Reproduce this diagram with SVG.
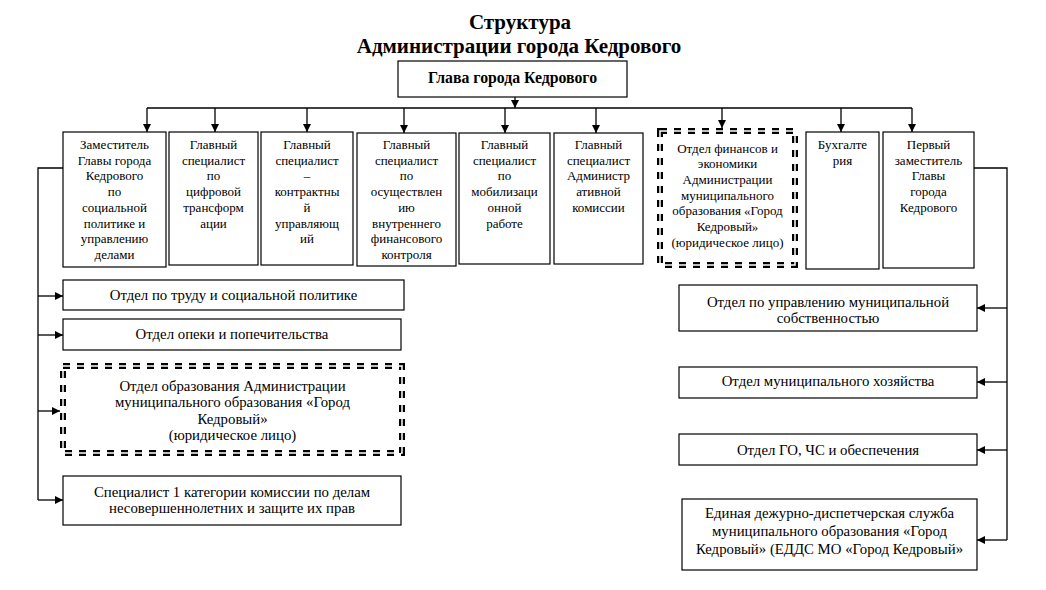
<svg xmlns="http://www.w3.org/2000/svg" width="1046" height="590" viewBox="0 0 1046 590">
<defs>
<marker id="arr" markerUnits="userSpaceOnUse" markerWidth="9" markerHeight="8" refX="8" refY="4" orient="auto"><path d="M0,0 L8,4 L0,8 z" fill="#000"/></marker>
<style>
.box{fill:#fff;stroke:#000;stroke-width:1.2}
.dash{fill:#fff;stroke:#000;stroke-width:6;stroke-dasharray:7 7}
.dashin{fill:none;stroke:#fff;stroke-width:1.5;stroke-dasharray:7 7}
.c{fill:none;stroke:#000;stroke-width:1.3}
.a{fill:none;stroke:#000;stroke-width:1.3;marker-end:url(#arr)}
text{font-family:"Liberation Serif","Times New Roman",serif;fill:#000;text-anchor:middle}
.t{font-size:21px;font-weight:bold}
.h{font-size:15.8px;font-weight:bold}
.s{font-size:13px}
.m{font-size:14.8px}
</style>
</defs>
<rect width="1046" height="590" fill="#fff"/>
<g id="title">
<text class="t" x="520" y="29">Структура</text>
<text class="t" x="519" y="53">Администрации города Кедрового</text>
</g>
<g id="connectors">
<line class="a" x1="515" y1="97" x2="515" y2="108"/>
<line class="c" x1="147" y1="108" x2="912" y2="108"/>
<line class="a" x1="147" y1="108" x2="147" y2="132"/>
<line class="a" x1="215" y1="108" x2="215" y2="132"/>
<line class="a" x1="307" y1="108" x2="307" y2="132"/>
<line class="a" x1="404" y1="108" x2="404" y2="133"/>
<line class="a" x1="505" y1="108" x2="505" y2="133"/>
<line class="a" x1="596" y1="108" x2="596" y2="133"/>
<line class="a" x1="722" y1="108" x2="722" y2="128"/>
<line class="a" x1="841" y1="108" x2="841" y2="132"/>
<line class="a" x1="912" y1="108" x2="912" y2="132"/>
<polyline class="c" points="63,168 38,168 38,500"/>
<line class="a" x1="38" y1="296" x2="63" y2="296"/>
<line class="a" x1="38" y1="335" x2="63" y2="335"/>
<line class="a" x1="38" y1="411" x2="60" y2="411"/>
<line class="a" x1="38" y1="500" x2="63" y2="500"/>
<polyline class="c" points="974,168 1007,168 1007,540"/>
<line class="a" x1="1007" y1="308" x2="977" y2="308"/>
<line class="a" x1="1007" y1="382" x2="977" y2="382"/>
<line class="a" x1="1007" y1="450" x2="977" y2="450"/>
<line class="a" x1="1007" y1="540" x2="977" y2="540"/>
</g>
<g id="head">
<rect class="box" x="398" y="61" width="229" height="36"/>
<text class="h" x="512.5" y="83">Глава города Кедрового</text>
</g>
<g id="n1">
<rect class="box" x="63" y="132" width="103" height="135"/>
<text class="s"><tspan x="114.5" y="149">Заместитель</tspan><tspan x="114.5" y="164.7">Главы города</tspan><tspan x="114.5" y="180.4">Кедрового</tspan><tspan x="114.5" y="196.1">по</tspan><tspan x="114.5" y="211.8">социальной</tspan><tspan x="114.5" y="227.5">политике и</tspan><tspan x="114.5" y="243.2">управлению</tspan><tspan x="114.5" y="258.9">делами</tspan></text>
</g>
<g id="n2">
<rect class="box" x="169" y="132" width="89" height="133"/>
<text class="s"><tspan x="213.5" y="149">Главный</tspan><tspan x="213.5" y="164.7">специалист</tspan><tspan x="213.5" y="180.4">по</tspan><tspan x="213.5" y="196.1">цифровой</tspan><tspan x="213.5" y="211.8">трансформ</tspan><tspan x="213.5" y="227.5">ации</tspan></text>
</g>
<g id="n3">
<rect class="box" x="261" y="132" width="92" height="133"/>
<text class="s"><tspan x="307" y="149">Главный</tspan><tspan x="307" y="164.7">специалист</tspan><tspan x="307" y="180.4">–</tspan><tspan x="307" y="196.1">контрактны</tspan><tspan x="307" y="211.8">й</tspan><tspan x="307" y="227.5">управляющ</tspan><tspan x="307" y="243.2">ий</tspan></text>
</g>
<g id="n4">
<rect class="box" x="357" y="133" width="99" height="133"/>
<text class="s"><tspan x="406.5" y="149">Главный</tspan><tspan x="406.5" y="164.7">специалист</tspan><tspan x="406.5" y="180.4">по</tspan><tspan x="406.5" y="196.1">осуществлен</tspan><tspan x="406.5" y="211.8">ию</tspan><tspan x="406.5" y="227.5">внутреннего</tspan><tspan x="406.5" y="243.2">финансового</tspan><tspan x="406.5" y="258.9">контроля</tspan></text>
</g>
<g id="n5">
<rect class="box" x="459" y="133" width="91" height="131"/>
<text class="s"><tspan x="504.5" y="149">Главный</tspan><tspan x="504.5" y="164.7">специалист</tspan><tspan x="504.5" y="180.4">по</tspan><tspan x="504.5" y="196.1">мобилизаци</tspan><tspan x="504.5" y="211.8">онной</tspan><tspan x="504.5" y="227.5">работе</tspan></text>
</g>
<g id="n6">
<rect class="box" x="554" y="133" width="89" height="131"/>
<text class="s"><tspan x="598.5" y="149">Главный</tspan><tspan x="598.5" y="164.7">специалист</tspan><tspan x="598.5" y="180.4">Администр</tspan><tspan x="598.5" y="196.1">ативной</tspan><tspan x="598.5" y="211.8">комиссии</tspan></text>
</g>
<g id="n7">
<rect class="dash" x="660" y="131" width="135" height="134"/>
<rect class="dashin" x="660" y="131" width="135" height="134"/>
<text class="s"><tspan x="727.5" y="152.5">Отдел финансов и</tspan><tspan x="727.5" y="168.2">экономики</tspan><tspan x="727.5" y="183.9">Администрации</tspan><tspan x="727.5" y="199.6">муниципального</tspan><tspan x="727.5" y="215.3">образования «Город</tspan><tspan x="727.5" y="231">Кедровый»</tspan><tspan x="727.5" y="246.7">(юридическое лицо)</tspan></text>
</g>
<g id="n8">
<rect class="box" x="806" y="132" width="73" height="137"/>
<text class="s"><tspan x="842.5" y="149">Бухгалте</tspan><tspan x="842.5" y="164.7">рия</tspan></text>
</g>
<g id="n9">
<rect class="box" x="883" y="132" width="91" height="136"/>
<text class="s"><tspan x="928.5" y="149">Первый</tspan><tspan x="928.5" y="164.7">заместитель</tspan><tspan x="928.5" y="180.4">Главы</tspan><tspan x="928.5" y="196.1">города</tspan><tspan x="928.5" y="211.8">Кедрового</tspan></text>
</g>
<g id="l1">
<rect class="box" x="63" y="280" width="341" height="30"/>
<text class="m" x="233.5" y="300">Отдел по труду и социальной политике</text>
</g>
<g id="l2">
<rect class="box" x="63" y="319" width="338" height="31"/>
<text class="m" x="232" y="339">Отдел опеки и попечительства</text>
</g>
<g id="l3">
<rect class="dash" x="63" y="366" width="339" height="87"/>
<rect class="dashin" x="63" y="366" width="339" height="87"/>
<text class="m"><tspan x="232.5" y="391">Отдел образования Администрации</tspan><tspan x="232.5" y="407.3">муниципального образования «Город</tspan><tspan x="232.5" y="423.6">Кедровый»</tspan><tspan x="232.5" y="439.9">(юридическое лицо)</tspan></text>
</g>
<g id="l4">
<rect class="box" x="63" y="476" width="338" height="49"/>
<text class="m"><tspan x="232" y="497">Специалист 1 категории комиссии по делам</tspan><tspan x="232" y="513">несовершеннолетних и защите их прав</tspan></text>
</g>
<g id="r1">
<rect class="box" x="679" y="285" width="298" height="46"/>
<text class="m"><tspan x="828" y="307">Отдел по управлению муниципальной</tspan><tspan x="828" y="323">собственностью</tspan></text>
</g>
<g id="r2">
<rect class="box" x="679" y="367" width="298" height="31"/>
<text class="m" x="828" y="386">Отдел муниципального хозяйства</text>
</g>
<g id="r3">
<rect class="box" x="679" y="434" width="298" height="31"/>
<text class="m" x="828" y="455">Отдел ГО, ЧС и обеспечения</text>
</g>
<g id="r4">
<rect class="box" x="682" y="499" width="295" height="71"/>
<text class="m"><tspan x="829.5" y="518">Единая дежурно-диспетчерская служба</tspan><tspan x="829.5" y="536">муниципального образования «Город</tspan><tspan x="829.5" y="554">Кедровый» (ЕДДС МО «Город Кедровый»</tspan></text>
</g>
</svg>
